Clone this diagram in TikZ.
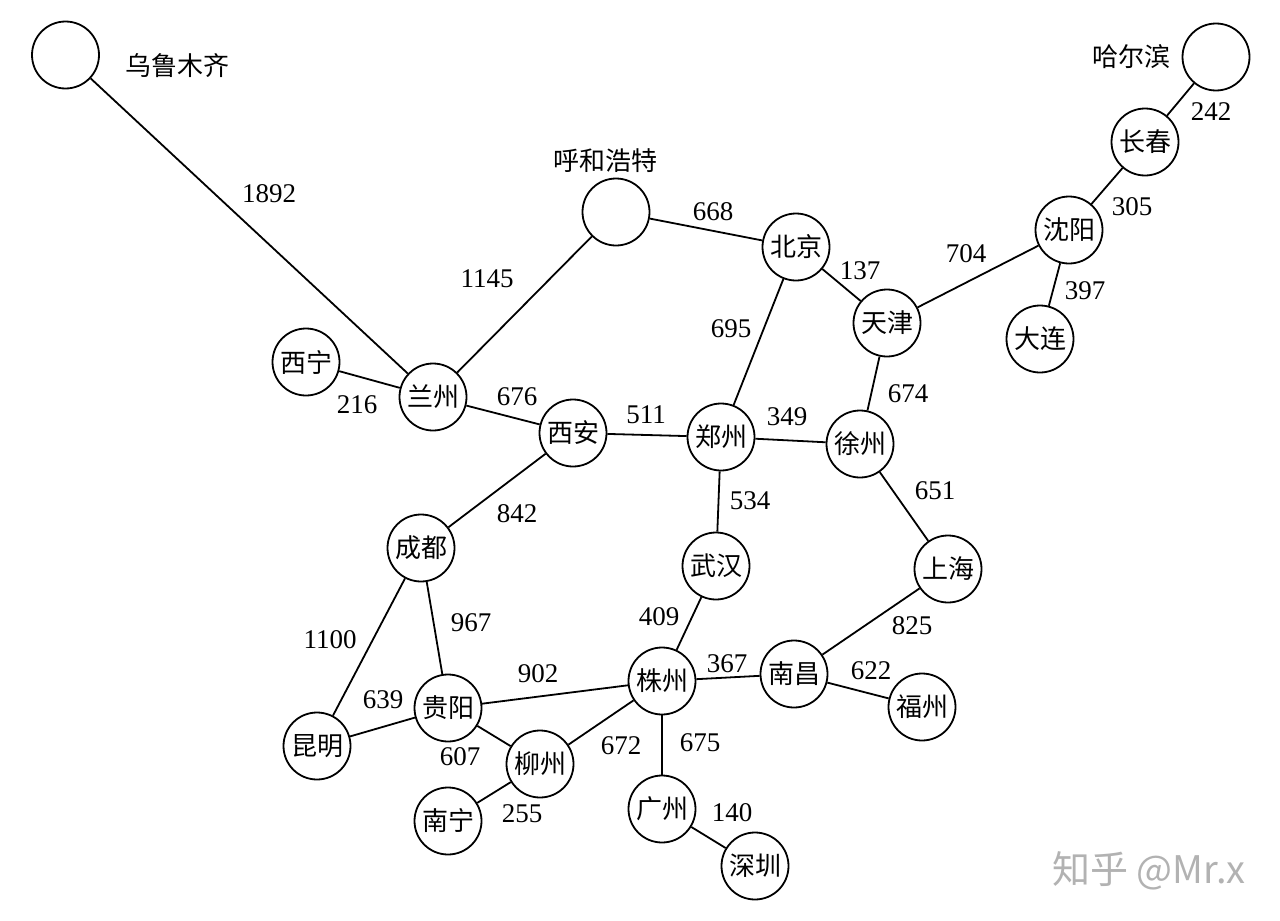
\documentclass[tikz,border=0pt]{standalone}
\usepackage{fontspec}
\setmainfont{Liberation Serif}
\newfontfamily\cjk{Noto Sans CJK SC}
\begin{document}
\begin{tikzpicture}[x=0.5pt,y=-0.5pt,
  city/.style={circle,draw,line width=0.9pt,minimum size=33.5pt,inner sep=0pt,font=\cjk\fontsize{13}{13}\selectfont},
  road/.style={line width=0.9pt},
  wt/.style={font=\fontsize{13.5}{13.5}\selectfont,inner sep=0pt},
  tag/.style={font=\cjk\fontsize{13}{13}\selectfont,inner sep=0pt}]
\useasboundingbox (0,0) rectangle (1280,921);
% cities
\node[city] (wlmq) at (65.5,55) {};
\node[city] (heb) at (1216,57) {};
\node[city] (hhht) at (616,212) {};
\node[city] (cc) at (1145,142) {长春};
\node[city] (sy) at (1069,230) {沈阳};
\node[city] (dl) at (1040,339) {大连};
\node[city] (bj) at (796,247) {北京};
\node[city] (tj) at (887,323) {天津};
\node[city] (xn) at (306,362) {西宁};
\node[city] (lz) at (433,397) {兰州};
\node[city] (xa) at (573,433) {西安};
\node[city] (zz) at (721,437) {郑州};
\node[city] (xz) at (860,444) {徐州};
\node[city] (cd) at (421,548) {成都};
\node[city] (wh) at (716,566) {武汉};
\node[city] (sh) at (948,569) {上海};
\node[city] (nc) at (794,674) {南昌};
\node[city] (fz) at (922,707) {福州};
\node[city] (zhz) at (662,681) {株州};
\node[city] (gy) at (448,708) {贵阳};
\node[city] (km) at (317,746) {昆明};
\node[city] (liz) at (540,764) {柳州};
\node[city] (nn) at (448,821) {南宁};
\node[city] (gz) at (662,809) {广州};
\node[city] (sz) at (755,866) {深圳};
% outside names
\node[tag] (twlmq) at (177,66) {乌鲁木齐};
\node[tag] (theb) at (1131,57) {哈尔滨};
\node[tag] (thhht) at (605,161) {呼和浩特};
% roads
\draw[road] (wlmq) -- (lz);
\draw[road] (lz) -- (hhht);
\draw[road] (hhht) -- (bj);
\draw[road] (bj) -- (tj);
\draw[road] (tj) -- (sy);
\draw[road] (sy) -- (cc);
\draw[road] (cc) -- (heb);
\draw[road] (sy) -- (dl);
\draw[road] (bj) -- (zz);
\draw[road] (tj) -- (xz);
\draw[road] (xn) -- (lz);
\draw[road] (lz) -- (xa);
\draw[road] (xa) -- (zz);
\draw[road] (zz) -- (xz);
\draw[road] (xz) -- (sh);
\draw[road] (xa) -- (cd);
\draw[road] (zz) -- (wh);
\draw[road] (cd) -- (gy);
\draw[road] (cd) -- (km);
\draw[road] (wh) -- (zhz);
\draw[road] (sh) -- (nc);
\draw[road] (gy) -- (zhz);
\draw[road] (zhz) -- (nc);
\draw[road] (nc) -- (fz);
\draw[road] (gy) -- (km);
\draw[road] (gy) -- (liz);
\draw[road] (zhz) -- (liz);
\draw[road] (zhz) -- (gz);
\draw[road] (liz) -- (nn);
\draw[road] (gz) -- (sz);
% weights
\node[wt] (w1) at (269,194) {1892};
\node[wt] (w2) at (1211,112) {242};
\node[wt] (w3) at (1132,207) {305};
\node[wt] (w4) at (1085,291) {397};
\node[wt] (w5) at (357,405) {216};
\node[wt] (w6) at (517,397) {676};
\node[wt] (w7) at (517,514) {842};
\node[wt] (w8) at (330,640) {1100};
\node[wt] (w9) at (471,623) {967};
\node[wt] (w10) at (538,674) {902};
\node[wt] (w11) at (659,617) {409};
\node[wt] (w12) at (727,664) {367};
\node[wt] (w13) at (383,700) {639};
\node[wt] (w14) at (460,757) {607};
\node[wt] (w15) at (621,746) {672};
\node[wt] (w16) at (700,743) {675};
\node[wt] (w17) at (522,814) {255};
\node[wt] (w18) at (732,813) {140};
\node[wt] (w19) at (713,212) {668};
\node[wt] (w20) at (860,271) {137};
\node[wt] (w21) at (966,254) {704};
\node[wt] (w22) at (731,329) {695};
\node[wt] (w23) at (908,394) {674};
\node[wt] (w24) at (646,415) {511};
\node[wt] (w25) at (787,417) {349};
\node[wt] (w26) at (750,501) {534};
\node[wt] (w27) at (935,491) {651};
\node[wt] (w28) at (912,626) {825};
\node[wt] (w29) at (871,671) {622};
\node[wt] (w30) at (487,279) {1145};
% watermark
\node[font=\cjk\fontsize{19}{19}\selectfont,text=black!30,inner sep=0pt] (wm) at (1149,871) {知乎 @Mr.x};
\end{tikzpicture}
\end{document}
